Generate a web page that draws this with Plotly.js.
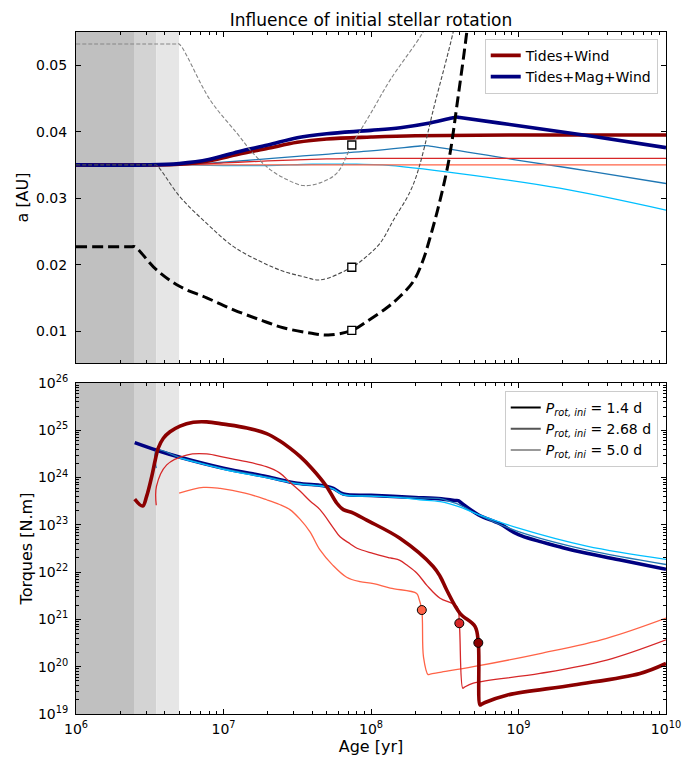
<!DOCTYPE html>
<html>
<head>
<meta charset="utf-8">
<script src="https://cdn.plot.ly/plotly-3.0.1.min.js"></script>
<style>html,body{margin:0;padding:0;background:#fff;}#chart{width:695px;height:757px;}</style>
</head>
<body>
<div id="chart"></div>
<script>
// ---------- data ----------
// disk-lock phases (end ages, yr) for P_rot,ini = 1.4, 2.68, 5.0 d
const diskEnd = [2.5e6, 3.5e6, 5e6];

// ---- top panel: semi-major axis a [AU] ----
// Tides+Wind
const ageA_TW14 = [1e6, 3.16e6, 5.01e6, 7.94e6, 1.26e7, 2.0e7, 3.16e7, 5.01e7, 1e8, 2e8, 1e9, 1e10];
const a_TW14    = [0.0350, 0.0350, 0.0351, 0.0356, 0.0366, 0.0375, 0.0384, 0.0389, 0.0392, 0.0394, 0.0395, 0.0395];
const ageA_TW268 = [1e6, 5e6, 1e7, 2e7, 5e7, 1e8, 1e10];
const a_TW268    = [0.0350, 0.0350, 0.0353, 0.0356, 0.0359, 0.0360, 0.0360];
const ageA_TW50 = [1e6, 1e8, 1e10];
const a_TW50    = [0.0350, 0.0350, 0.0350];
// Tides+Mag+Wind
const ageA_TMW14 = [1e6, 3.16e6, 5.01e6, 7.94e6, 1.26e7, 2e7, 3.16e7, 5.01e7, 1e8, 1.58e8, 2.51e8, 3.6e8, 3.8e8, 4.0e8, 1e9, 3.16e9, 1e10];
const a_TMW14    = [0.0350, 0.0350, 0.0352, 0.0358, 0.0370, 0.0380, 0.0391, 0.0397, 0.0402, 0.0406, 0.0413, 0.0421, 0.0422, 0.04213, 0.0409, 0.0393, 0.0376];
const ageA_TMW268 = [1e6, 5e6, 1e7, 3.16e7, 1e8, 2.15e8, 2.32e8, 2.5e8, 1e9, 3.16e9, 1e10];
const a_TMW268    = [0.0350, 0.0350, 0.0354, 0.0363, 0.0371, 0.03785, 0.0379, 0.03783, 0.0357, 0.0340, 0.0322];
const ageA_TMW50 = [1e6, 5e6, 1e7, 2e7, 4e7, 8e7, 1.2e8, 4e8, 1.9e9, 1e10];
const a_TMW50    = [0.0350, 0.0350, 0.0349, 0.0349, 0.0351, 0.0351, 0.0350, 0.0337, 0.0315, 0.0282];
// corotation radii (dashed)
const ageCor14 = [1e6, 2.4e6, 2.5e6, 3.52e6, 5.07e6, 7.69e6, 1.17e7, 1.77e7, 2.54e7, 3.86e7, 5.13e7, 7.41e7, 9.3e7, 1.28e8, 1.57e8, 1.94e8, 2.24e8, 2.51e8, 2.94e8, 3.39e8, 3.87e8, 4.46e8, 5.0e8];
const aCor14   = [0.0227, 0.0227, 0.0227, 0.0192, 0.0167, 0.0150, 0.0132, 0.0117, 0.0105, 0.0097, 0.0094, 0.0101, 0.0114, 0.0135, 0.0152, 0.0175, 0.0205, 0.0240, 0.0297, 0.0360, 0.0448, 0.0550, 0.0650];
const ageCor268 = [1e6, 3.4e6, 3.5e6, 5.07e6, 7.69e6, 1.17e7, 1.77e7, 2.54e7, 3.47e7, 4.51e7, 7.41e7, 9.3e7, 1.15e8, 1.42e8, 1.93e8, 2.75e8, 3.6e8, 4.2e8];
const aCor268   = [0.0350, 0.0350, 0.0350, 0.0302, 0.0262, 0.0227, 0.0205, 0.0190, 0.0182, 0.0177, 0.0196, 0.0212, 0.0232, 0.0267, 0.0320, 0.0448, 0.0549, 0.0620];
const ageCor50 = [1e6, 4.8e6, 5e6, 8.1e6, 1.23e7, 1.58e7, 2.07e7, 2.69e7, 3.47e7, 4.51e7, 5.89e7, 7.41e7, 9.8e7, 1.35e8, 2.24e8, 2.6e8];
const aCor50   = [0.0532, 0.0532, 0.0532, 0.0448, 0.0398, 0.0368, 0.0343, 0.0328, 0.0319, 0.0323, 0.0338, 0.0380, 0.0425, 0.0478, 0.0549, 0.0580];
// square markers on corotation curves
const sqAge = [7.41e7, 7.41e7, 7.41e7];
const sqA   = [0.0380, 0.0196, 0.0101];

// ---- bottom panel: torques [N.m] ----
const ageT_TW14 = [2.5e6, 2.83e6, 3.01e6, 3.26e6, 3.44e6, 3.61e6, 3.91e6, 4.34e6, 5.07e6, 6.24e6, 7.69e6, 1e7, 1.44e7, 1.96e7, 2.4e7, 2.82e7, 3.3e7, 3.96e7, 5.0e7, 5.85e7, 6.49e7, 7.59e7, 9.35e7, 1.57e8, 2.64e8, 2.95e8, 3.26e8, 4.01e8, 5.07e8, 5.34e8, 5.48e8, 5.6e8, 5.93e8, 8.32e8, 2.36e9, 6.67e9, 1e10];
const tq_TW14   = [3.5e23, 2.5e23, 4.0e23, 1.05e24, 2.3e24, 4.2e24, 6.8e24, 9.3e24, 1.23e25, 1.48e25, 1.51e25, 1.35e25, 1.12e25, 8.5e24, 6.0e24, 4.2e24, 2.8e24, 1.58e24, 6.5e23, 2.9e23, 2.1e23, 1.78e23, 1.26e23, 5.2e22, 1.32e22, 8.0e21, 4.2e21, 1.35e21, 7.1e20, 3.2e20, 1.55e19, 1.6e19, 1.75e19, 2.5e19, 4.1e19, 7.2e19, 1.17e20];
const ageT_TW268 = [3.5e6, 3.51e6, 4.12e6, 5.62e6, 7.69e6, 1e7, 1.4e7, 1.95e7, 2.4e7, 2.82e7, 3.3e7, 3.86e7, 4.51e7, 5.52e7, 6.17e7, 7.21e7, 8.04e7, 1.03e8, 1.35e8, 1.57e8, 1.75e8, 2.05e8, 2.4e8, 2.94e8, 3.83e8, 3.97e8, 4.19e8, 4.3e8, 4.94e8, 1.4e9, 3.96e9, 1e10];
const tq_TW268   = [2.6e23, 6.5e23, 1.86e24, 3.0e24, 3.16e24, 2.7e24, 2.2e24, 1.7e24, 1.26e24, 8.0e23, 5.2e23, 3.2e23, 2.1e23, 8.9e22, 5.6e22, 4.0e22, 3.2e22, 2.5e22, 2.0e22, 1.78e22, 1.41e22, 9.5e21, 5.2e21, 2.8e21, 1.86e21, 8.3e20, 3.5e19, 3.7e19, 4.5e19, 7.2e19, 1.38e20, 3.7e20];
const ageT_TW50 = [5e6, 7.3e6, 9.5e6, 1.4e7, 1.96e7, 2.4e7, 2.82e7, 3.3e7, 3.86e7, 4.51e7, 5.5e7, 6.84e7, 8.41e7, 1.04e8, 1.35e8, 2.04e8, 2.11e8, 2.21e8, 2.27e8, 2.44e8, 2.52e8, 2.94e8, 4.94e8, 1.4e9, 3.96e9, 1e10];
const tq_TW50   = [4.7e23, 6.2e23, 5.9e23, 4.7e23, 3.4e23, 2.7e23, 2.1e23, 1.32e23, 7.1e22, 2.95e22, 1.41e22, 7.8e21, 6.3e21, 5.75e21, 4.6e21, 3.55e21, 2.8e21, 1.58e21, 1.6e20, 6.8e19, 7.0e19, 7.6e19, 1.0e20, 1.9e20, 4.0e20, 1.07e21];
const ageT_TMW14 = [2.5e6, 3.52e6, 5.07e6, 1e7, 1.95e7, 3.16e7, 4.47e7, 5.0e7, 5.56e7, 6.49e7, 1e8, 2e8, 3e8, 3.7e8, 3.9e8, 4.1e8, 5.37e8, 7.4e8, 1e9, 2e9, 2.9e9, 5e9, 1e10];
const tq_TMW14   = [5.5e24, 3.8e24, 2.7e24, 1.58e24, 1.05e24, 7.6e23, 6.9e23, 6.5e23, 5.9e23, 4.5e23, 4.2e23, 3.8e23, 3.55e23, 3.28e23, 3.25e23, 2.9e23, 1.62e23, 1.07e23, 6.2e22, 3.3e22, 2.5e22, 1.78e22, 1.15e22];
const ageT_TMW268 = [3.5e6, 3.51e6, 5.07e6, 1e7, 1.95e7, 3.16e7, 4.47e7, 5.0e7, 5.56e7, 6.49e7, 1e8, 2e8, 2.8e8, 2.95e8, 3.1e8, 3.98e8, 5.37e8, 1e9, 2.9e9, 1e10];
const tq_TMW268   = [1.58e24, 3.8e24, 2.65e24, 1.55e24, 1.03e24, 7.5e23, 6.8e23, 6.4e23, 5.8e23, 4.4e23, 4.1e23, 3.75e23, 3.62e23, 3.6e23, 3.45e23, 2.65e23, 1.62e23, 7.2e22, 2.95e22, 1.45e22];
const ageT_TMW50 = [5e6, 1e7, 1.95e7, 3.16e7, 4.47e7, 5.0e7, 5.56e7, 6.49e7, 1e8, 1.58e8, 2.14e8, 2.95e8, 3.98e8, 5.37e8, 1e9, 2.9e9, 1e10];
const tq_TMW50   = [2.6e24, 1.5e24, 1.0e24, 7.4e23, 6.7e23, 6.3e23, 5.7e23, 4.3e23, 4.05e23, 3.75e23, 3.4e23, 3.1e23, 2.4e23, 1.65e23, 8.5e22, 3.55e22, 1.86e22];
// circle markers
const circAge = [2.21e8, 3.97e8, 5.34e8];
const circTq  = [1.58e21, 8.3e20, 3.2e20];

// labels
const modelNames = ['Tides+Wind', 'Tides+Mag+Wind'];
const protLabels = ['1.4', '2.68', '5.0'];
const xTickVals = [1e6, 1e7, 1e8, 1e9, 1e10];
const xTickText = ['10<sup>6</sup>', '10<sup>7</sup>', '10<sup>8</sup>', '10<sup>9</sup>', '10<sup>10</sup>'];
const aTickVals = [0.01, 0.02, 0.03, 0.04, 0.05];
const aTickText = ['0.01', '0.02', '0.03', '0.04', '0.05'];
const tqTickVals = [1e19, 1e20, 1e21, 1e22, 1e23, 1e24, 1e25, 1e26];
const tqTickText = ['10<sup>19</sup>', '10<sup>20</sup>', '10<sup>21</sup>', '10<sup>22</sup>', '10<sup>23</sup>', '10<sup>24</sup>', '10<sup>25</sup>', '10<sup>26</sup>'];

// ---------- styles ----------
const C = {
  dred: '#8b0000', red: '#d62728', lred: '#ff6347',
  navy: '#000080', blue: '#1f77b4', lblue: '#00bfff'
};
const W_THICK = 3.6, W_THIN = 1.3;
const FONT = 'DejaVu Sans, Liberation Sans, Arial, sans-serif';

function ln(x, y, color, width, xa, ya, extra) {
  return Object.assign({
    type: 'scatter', mode: 'lines', x: x, y: y, xaxis: xa, yaxis: ya,
    line: {color: color, width: width, shape: 'spline', smoothing: 1.0}, showlegend: false, hoverinfo: 'skip'
  }, extra || {});
}
function dashed(x, y, color, width, dash) {
  return ln(x, y, color, width, 'x', 'y', {line: {color: color, width: width, dash: dash, shape: 'spline', smoothing: 1.0}});
}

const traces = [];
// top panel
traces.push(ln(ageA_TMW50, a_TMW50, C.lblue, W_THIN, 'x', 'y'));
traces.push(ln(ageA_TMW268, a_TMW268, C.blue, W_THIN, 'x', 'y'));
traces.push(ln(ageA_TW50, a_TW50, C.lred, W_THIN, 'x', 'y'));
traces.push(ln(ageA_TW268, a_TW268, C.red, W_THIN, 'x', 'y'));
traces.push(ln(ageA_TW14, a_TW14, C.dred, W_THICK, 'x', 'y', {showlegend: true, name: modelNames[0], legend: 'legend'}));
traces.push(ln(ageA_TMW14, a_TMW14, C.navy, W_THICK, 'x', 'y', {showlegend: true, name: modelNames[1], legend: 'legend'}));
traces.push(dashed(ageCor50, aCor50, '#858585', 1.1, '4px,2px'));
traces.push(dashed(ageCor268, aCor268, '#4a4a4a', 1.1, '4px,2px'));
traces.push(dashed(ageCor14, aCor14, '#000000', 3, '11px,5px'));
traces.push({type: 'scatter', mode: 'markers', x: sqAge, y: sqA, xaxis: 'x', yaxis: 'y',
  marker: {symbol: 'square', size: 8, color: '#ffffff', line: {color: '#000000', width: 1.3}},
  showlegend: false, hoverinfo: 'skip'});

// bottom panel
traces.push(ln(ageT_TMW14, tq_TMW14, C.navy, W_THICK, 'x2', 'y2'));
traces.push(ln(ageT_TMW268, tq_TMW268, C.blue, W_THIN, 'x2', 'y2'));
traces.push(ln(ageT_TMW50, tq_TMW50, C.lblue, W_THIN, 'x2', 'y2'));
traces.push(ln(ageT_TW50, tq_TW50, C.lred, W_THIN, 'x2', 'y2'));
traces.push(ln(ageT_TW268, tq_TW268, C.red, W_THIN, 'x2', 'y2'));
traces.push(ln(ageT_TW14, tq_TW14, C.dred, W_THICK, 'x2', 'y2'));
traces.push({type: 'scatter', mode: 'markers', x: circAge, y: circTq, xaxis: 'x2', yaxis: 'y2',
  marker: {symbol: 'circle', size: 9, color: [C.lred, C.red, C.dred], line: {color: '#000000', width: 1}},
  showlegend: false, hoverinfo: 'skip'});

// P_rot legend (style keys)
const protColors = ['#000000', '#555555', '#999999'];
protLabels.forEach(function(p, i) {
  traces.push({type: 'scatter', mode: 'lines', x: [null], y: [null], xaxis: 'x2', yaxis: 'y2',
    line: {color: protColors[i], width: 2}, legend: 'legend2', showlegend: true,
    name: '<i>P</i><sub><i>rot, ini</i></sub> = ' + p + ' d'});
});

// shaded disk phases
const shadeColors = ['#c0c0c0', '#d3d3d3', '#e6e6e6'];
const shapes = [];
['', '2'].forEach(function(s) {
  let x0 = 1e6;
  diskEnd.forEach(function(xe, i) {
    shapes.push({type: 'rect', xref: 'x' + s, yref: 'y' + s + ' domain', x0: x0, x1: xe, y0: 0, y1: 1,
      fillcolor: shadeColors[i], line: {width: 0}, layer: 'below'});
    x0 = xe;
  });
});

function minorLogVals(lo, hi) {
  const v = [];
  for (let e = lo; e < hi; e++) for (let m = 2; m <= 9; m++) v.push(m * Math.pow(10, e));
  return v;
}

const axBase = {
  showline: true, linecolor: '#000', linewidth: 1, mirror: 'allticks',
  ticks: 'inside', ticklen: 5, tickwidth: 1, tickcolor: '#000',
  showgrid: false, zeroline: false,
  tickfont: {family: FONT, size: 14, color: '#000'}
};
const minorLog = function(lo, hi) {
  return {tickmode: 'array', tickvals: minorLogVals(lo, hi), ticks: 'inside', ticklen: 3, tickcolor: '#000', showgrid: false};
};

const layout = {
  width: 695, height: 757,
  margin: {l: 76, r: 29, t: 32, b: 43},
  paper_bgcolor: '#fff', plot_bgcolor: '#fff',
  font: {family: FONT, color: '#000'},
  title: {text: 'Influence of initial stellar rotation', font: {family: FONT, size: 17, color: '#000'},
    x: 0.5, xref: 'paper', xanchor: 'center', y: 1 - 20 / 757, yref: 'container', yanchor: 'middle'},
  xaxis: Object.assign({}, axBase, {type: 'log', range: [6, 10], anchor: 'y', domain: [0, 1],
    tickmode: 'array', tickvals: xTickVals, ticktext: xTickText, showticklabels: false,
    minor: minorLog(6, 10)}),
  yaxis: Object.assign({}, axBase, {range: [0.0052, 0.055], anchor: 'x', domain: [0.5147, 1],
    tickmode: 'array', tickvals: aTickVals, ticktext: aTickText, ticklabelstandoff: 5,
    title: {text: 'a [AU]', font: {family: FONT, size: 16}, standoff: 3}}),
  xaxis2: Object.assign({}, axBase, {type: 'log', range: [6, 10], anchor: 'y2', domain: [0, 1],
    tickmode: 'array', tickvals: xTickVals, ticktext: xTickText, ticklabelstandoff: 2,
    minor: minorLog(6, 10),
    title: {text: 'Age [yr]', font: {family: FONT, size: 16}, standoff: 4}}),
  yaxis2: Object.assign({}, axBase, {type: 'log', range: [19, 26], anchor: 'x2', domain: [0, 0.4853],
    tickmode: 'array', tickvals: tqTickVals, ticktext: tqTickText, ticklabelstandoff: 4,
    minor: minorLog(19, 26),
    title: {text: 'Torques [N.m]', font: {family: FONT, size: 16}, standoff: 1}}),
  legend: {x: 0.986, xanchor: 'right', y: 0.99, yanchor: 'top', xref: 'paper', yref: 'paper',
    bgcolor: 'rgba(255,255,255,0.85)', bordercolor: '#cccccc', borderwidth: 1,
    font: {family: FONT, size: 14, color: '#000'}, tracegroupgap: 0},
  legend2: {x: 0.986, xanchor: 'right', y: 0.4736, yanchor: 'top', xref: 'paper', yref: 'paper',
    bgcolor: 'rgba(255,255,255,0.85)', bordercolor: '#cccccc', borderwidth: 1,
    font: {family: FONT, size: 14, color: '#000'}},
  shapes: shapes,
  showlegend: true
};

Plotly.newPlot('chart', traces, layout, {staticPlot: true, displayModeBar: false});
</script>
</body>
</html>
